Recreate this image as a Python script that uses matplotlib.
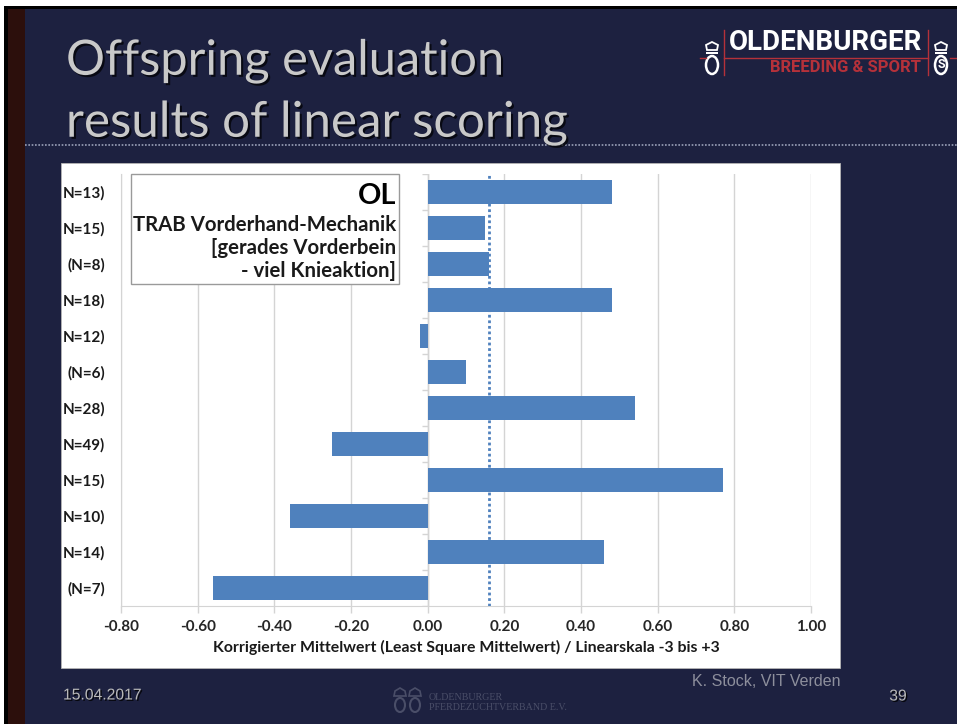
import matplotlib
matplotlib.use('Agg')
import matplotlib.pyplot as plt
import matplotlib.patheffects as pe
from matplotlib.patches import Rectangle, Ellipse, Polygon

# values
labels = ['N=13)', 'N=15)', '(N=8)', 'N=18)', 'N=12)', '(N=6)',
          'N=28)', 'N=49)', 'N=15)', 'N=10)', 'N=14)', '(N=7)']
values = [0.48, 0.15, 0.16, 0.48, -0.02, 0.10, 0.54, -0.25, 0.77, -0.36, 0.46, -0.56]
mean_line = 0.16
x_ticks = [-0.8, -0.6, -0.4, -0.2, 0.0, 0.2, 0.4, 0.6, 0.8, 1.0]

W, H = 957, 724
NAVY = '#1d2140'
GRID = '#d4d4d4'
plt.rcParams['font.family'] = ['Lato', 'DejaVu Sans']

fig = plt.figure(figsize=(W / 100, H / 100), dpi=100, facecolor=NAVY)

# slide background, drawn in pixel coordinates
bg = fig.add_axes([0, 0, 1, 1])
bg.set_xlim(0, W)
bg.set_ylim(H, 0)
bg.axis('off')
bg.add_patch(Rectangle((0, 0), W, 6, color='white', lw=0))
bg.add_patch(Rectangle((0, 6), W, 3, color='black', lw=0))
bg.add_patch(Rectangle((0, 0), 4, H, color='white', lw=0))
bg.add_patch(Rectangle((4, 6), 4, H, color='black', lw=0))
bg.add_patch(Rectangle((8, 9), 17, H, color='#2c0f0c', lw=0))
bg.plot([25, W], [145, 145], color='#9aa0b8', lw=1.2, ls=(0, (1, 1)))
bg.add_patch(Rectangle((61, 163), 779, 505, facecolor='white', edgecolor='#b5b5b5', lw=0.6))

# title
shadow = [pe.withSimplePatchShadow(offset=(1.5, -1.5), shadow_rgbFace='black', alpha=0.7)]
bg.text(66, 61, 'Offspring evaluation', fontsize=35.1, color='#c9c9c9', va='center', path_effects=shadow)
bg.text(66, 123, 'results of linear scoring', fontsize=35.5, color='#c9c9c9', va='center', path_effects=shadow)

# logo top right
logo_font = ['Roboto', 'DejaVu Sans']
bg.text(729, 42, 'OLDENBURGER', family=logo_font, fontsize=20, fontweight='bold', color='white',
        va='center', ha='left')
bg.text(921, 68, 'BREEDING & SPORT', family=logo_font, fontsize=12, fontweight='bold', color='#b5313a',
        va='center', ha='right')
bg.plot([724, 928], [58, 58], color='#b5313a', lw=1)
bg.plot([700, 706], [58, 58], color='#b5313a', lw=1)
bg.plot([950, 957], [58, 58], color='#b5313a', lw=1)
bg.plot([724, 724], [30, 75], color='#b5313a', lw=1)
bg.plot([928, 928], [30, 75], color='#b5313a', lw=1)
for cx in (712, 941):
    bg.add_patch(Polygon([(cx - 6, 45), (cx - 5, 50), (cx + 5, 50), (cx + 6, 45), (cx, 42)],
                         fill=False, edgecolor='white', lw=1.3))
    bg.add_patch(Rectangle((cx - 6, 52), 12, 2, color='white', lw=0))
    bg.add_patch(Ellipse((cx, 65), 12, 18, fill=False, edgecolor='white', lw=1.8))
bg.text(941, 65, 'S', family=logo_font, fontsize=9, color='white', ha='center', va='center', fontweight='bold')

# footer
foot_font = ['Liberation Sans', 'DejaVu Sans']
small_shadow = [pe.withSimplePatchShadow(offset=(1, -1), shadow_rgbFace='black', alpha=0.8)]
bg.text(63, 695, '15.04.2017', family=foot_font, fontsize=11.3, color='#b9b9b9', va='center', path_effects=small_shadow)
bg.text(840, 681, 'K. Stock, VIT Verden', family=foot_font, fontsize=11.5, color='#8d8f9c', va='center', ha='right')
bg.text(907, 696, '39', family=foot_font, fontsize=11.3, color='#b9b9b9', va='center', ha='right', path_effects=small_shadow)
for cx in (400, 415):
    bg.add_patch(Polygon([(cx - 5, 691), (cx - 6, 696), (cx + 6, 696), (cx + 5, 691), (cx, 688)],
                         fill=False, edgecolor='#4a4e68', lw=1.2))
    bg.add_patch(Ellipse((cx, 705), 10, 14, fill=False, edgecolor='#4a4e68', lw=1.5))
serif = ['Liberation Serif', 'DejaVu Serif']
bg.text(429, 698, 'OLDENBURGER', family=serif, fontsize=7.2, color='#4a4e68', va='center')
bg.text(429, 708, 'PFERDEZUCHTVERBAND E.V.', family=serif, fontsize=7.2, color='#4a4e68', va='center')

# chart, plot area 121..811 x 174..606 px
ax = fig.add_axes([121 / W, 1 - 606 / H, 690 / W, 432 / H], facecolor='none')
ypos = list(range(len(values)))
ax.barh(ypos, values, height=0.66, color='#4f81bd', zorder=3)
ax.axvline(mean_line, color='#4f81bd', lw=2, ls=(0, (1, 1)), zorder=4)
ax.axvline(0, color=GRID, lw=1, zorder=2)
ax.hlines([y - 0.5 for y in ypos] + [len(values) - 0.5], -0.016, 0, color=GRID, lw=1, zorder=2)

ax.set_xlim(-0.8, 1.0)
ax.set_ylim(len(values) - 0.5, -0.5)
ax.set_xticks(x_ticks)
ax.set_xticklabels(['%.2f' % t for t in x_ticks], fontsize=11, fontweight='bold', color='#262626')
ax.set_yticks(ypos)
ax.set_yticklabels(labels, fontsize=11, fontweight='bold', color='#1a1a1a')
ax.tick_params(axis='y', length=0, pad=11.5)
ax.tick_params(axis='x', length=5, color=GRID, width=1, pad=5)
ax.grid(axis='x', color=GRID, lw=1, zorder=1)
for side in ('top', 'right'):
    ax.spines[side].set_visible(False)
for side in ('left', 'bottom'):
    ax.spines[side].set_color(GRID)
ax.set_xlabel('Korrigierter Mittelwert (Least Square Mittelwert) / Linearskala -3 bis +3',
              fontsize=11.4, fontweight='bold', color='#1a1a1a', labelpad=4.5)

# annotation box, on top of the chart
top = fig.add_axes([0, 0, 1, 1], facecolor='none')
top.set_xlim(0, W)
top.set_ylim(H, 0)
top.axis('off')
top.add_patch(Rectangle((131, 174), 268, 110, facecolor='white', edgecolor='#9a9a9a', lw=1))
top.text(396, 196, 'OL', fontsize=20.8, fontweight='bold', color='black', ha='right', va='center')
top.text(396, 225, 'TRAB Vorderhand-Mechanik', fontsize=14.7, fontweight='bold', color='#1a1a1a', ha='right', va='center')
top.text(396, 248, '[gerades Vorderbein', fontsize=14.7, fontweight='bold', color='#1a1a1a', ha='right', va='center')
top.text(396, 271, '- viel Knieaktion]', fontsize=14.7, fontweight='bold', color='#1a1a1a', ha='right', va='center')

fig.savefig('out.png', dpi=100, facecolor=NAVY)
